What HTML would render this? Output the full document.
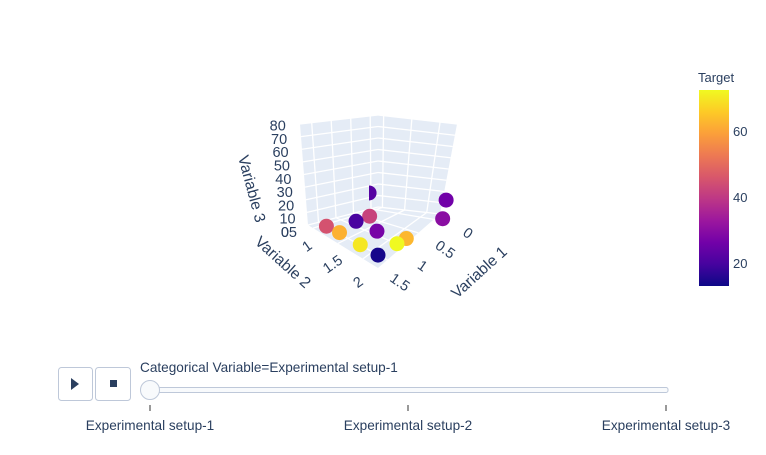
<!DOCTYPE html>
<html><head><meta charset="utf-8"><style>
body{margin:0;background:#fff;font-family:"Liberation Sans",sans-serif;}
svg text{font-family:"Liberation Sans",sans-serif;fill:#2a3f5f;}
</style></head><body>
<svg id="chart" width="766" height="450">
<defs>
<linearGradient id="plasma" x1="0" y1="1" x2="0" y2="0">
<stop offset="0" stop-color="#0d0887"/><stop offset="0.111" stop-color="#46039f"/><stop offset="0.222" stop-color="#7201a8"/><stop offset="0.333" stop-color="#9c179e"/><stop offset="0.444" stop-color="#bd3786"/><stop offset="0.555" stop-color="#d8576b"/><stop offset="0.666" stop-color="#ed7953"/><stop offset="0.777" stop-color="#fb9f3a"/><stop offset="0.888" stop-color="#fdca26"/><stop offset="1" stop-color="#f0f921"/>
</linearGradient>
<clipPath id="sceneclip"><rect x="369" y="0" width="400" height="450"/></clipPath>
</defs>
<g id="scene"></g>
<g id="cbar"></g>
<g id="slider">
<rect x="58.5" y="367.5" width="34" height="33" rx="3" fill="#fff" stroke="#bec8d9"/>
<path d="M71,378 L79,384 L71,390 Z" fill="#2a3f5f"/>
<rect x="95.5" y="367.5" width="35" height="33" rx="3" fill="#fff" stroke="#bec8d9"/>
<rect x="110" y="380" width="7" height="7" fill="#2a3f5f"/>
<text x="140" y="372" font-size="13.6">Categorical Variable=Experimental setup-1</text>
<rect x="150" y="387.5" width="518" height="5" rx="2" fill="#f8fafc" stroke="#bec8d9"/>
</g>
</svg>
<script>
const NS="http://www.w3.org/2000/svg";
// data
const var1=[1.8,1.8,1.1,1.6,1.4,1.8,1.8,1.2,0.9,0.04,0.04,0.05];
const var2=[1.28,1.54,1.67,1.74,2.02,1.95,2.3,2.3,2.3,2.51,2.51,0.9];
const var3=[8,9,15,19,14,9,9,6,4,19,3,14];
const target=[45,62,42,20,27,70,14,73,63,26,30,22];
const zTicks=[0,10,20,30,40,50,60,70,80];
const v1Ticks=[0,0.5,1,1.5];
const v2Ticks=[1,1.5,2];
const cbTicks=[20,40,60];
const frames=["Experimental setup-1","Experimental setup-2","Experimental setup-3"];
const v1R=[-0.2,1.8],v2R=[0.9,2.3],zR=[0,80],cR=[13,72.5];
const B=[378,207],L=[308,225],R=[440,214],F=[378,268];
const Bt=[378,115],Lt=[300,124],Rt=[457,124],Ft=[378,153];
function quad(P0,P1,P2,P3,u,v){return [0,1].map(k=>P0[k]+u*(P1[k]-P0[k])+v*(P2[k]-P0[k])+u*v*(P3[k]-P1[k]-P2[k]+P0[k]));}
function proj(a,b,c){
 const u=(a-v1R[0])/(v1R[1]-v1R[0]),v=(b-v2R[0])/(v2R[1]-v2R[0]);
 const f=quad(B,L,R,F,u,v),t=quad(Bt,Lt,Rt,Ft,u,v);
 const s=(c-zR[0])/(zR[1]-zR[0]);
 return [f[0]+s*(t[0]-f[0]),f[1]+s*(t[1]-f[1])];
}
const stops=["#0d0887","#46039f","#7201a8","#9c179e","#bd3786","#d8576b","#ed7953","#fb9f3a","#fdca26","#f0f921"];
function hx(s){return [1,3,5].map(i=>parseInt(s.substr(i,2),16));}
function color(t){let f=(t-cR[0])/(cR[1]-cR[0]);f=Math.max(0,Math.min(1,f))*9;const i=Math.min(8,Math.floor(f)),r=f-i;const a=hx(stops[i]),b=hx(stops[i+1]);return "rgb("+a.map((x,k)=>Math.round(x+(b[k]-x)*r)).join(",")+")";}
const scene=document.getElementById('scene');
function mk(tag,attrs,parent){const e=document.createElementNS(NS,tag);for(const k in attrs)e.setAttribute(k,attrs[k]);(parent||scene).appendChild(e);return e;}
function poly(pts,attrs){return mk('polygon',Object.assign({points:pts.map(p=>p.join(',')).join(' ')},attrs));}
let w;
w=poly([proj(v1R[0],v2R[0],0),proj(v1R[1],v2R[0],0),proj(v1R[1],v2R[0],80),proj(v1R[0],v2R[0],80)],{fill:"#e5ecf6"});


w=poly([proj(v1R[0],v2R[0],0),proj(v1R[0],v2R[1],0),proj(v1R[0],v2R[1],80),proj(v1R[0],v2R[0],80)],{fill:"#e5ecf6"});


w=poly([proj(v1R[0],v2R[0],0),proj(v1R[1],v2R[0],0),proj(v1R[1],v2R[1],0),proj(v1R[0],v2R[1],0)],{fill:"#e5ecf6"});


function line(p,q,name){const l=mk('line',{x1:p[0],y1:p[1],x2:q[0],y2:q[1],stroke:"#fff","stroke-width":1.3});

}
const zlab=z=>[297-0.14*z,232-1.33*z];
zTicks.forEach(z=>{line(proj(v1R[0],v2R[0],z),proj(v1R[1],v2R[0],z),'z-gridline');line(proj(v1R[0],v2R[0],z),proj(v1R[0],v2R[1],z),'z-gridline');
 const p=zlab(z);const t=mk('text',{x:p[0]-(z===0?8:0),y:p[1]+5,"font-size":14.5,"text-anchor":"end"});t.textContent=z;
 
 });
const v1lab=a=>[468-45.3*a,233+32.7*a];
v1Ticks.forEach(a=>{line(proj(a,v2R[0],0),proj(a,v2R[0],80),'v1-gridline');line(proj(a,v2R[0],0),proj(a,v2R[1],0),'v1-gridline');
 const p=v1lab(a);const t=mk('text',{x:p[0],y:p[1]+5,"font-size":14.5,"text-anchor":"middle",transform:`rotate(35 ${p[0]} ${p[1]})`});t.textContent=a;
 
 });
const v2lab=b=>[307+51*(b-1),246+36*(b-1)];
v2Ticks.forEach(b=>{line(proj(v1R[0],b,0),proj(v1R[0],b,80),'v2-gridline');line(proj(v1R[0],b,0),proj(v1R[1],b,0),'v2-gridline');
 const p=v2lab(b);const t=mk('text',{x:p[0],y:p[1]+5,"font-size":14.5,"text-anchor":"middle",transform:`rotate(-35 ${p[0]} ${p[1]})`});t.textContent=b;
 
 });
let extra=zlab(0);
let ex=mk('text',{x:extra[0],y:extra[1]+5,"font-size":14.5,"text-anchor":"end"});ex.textContent="05";


let at;
at=mk('text',{x:0,y:0,"font-size":15.5,transform:"translate(238,157) rotate(75)"});at.textContent="Variable 3";


at=mk('text',{x:0,y:0,"font-size":15.5,transform:"translate(254,243) rotate(42)"});at.textContent="Variable 2";


at=mk('text',{x:0,y:0,"font-size":15.5,transform:"translate(457,299) rotate(-42)"});at.textContent="Variable 1";


const idx=var1.map((_,i)=>i).sort((i,j)=>proj(var1[i],var2[i],0)[1]-proj(var1[j],var2[j],0)[1]);
idx.forEach(i=>{const p=proj(var1[i],var2[i],var3[i]);
 const c=mk('circle',{cx:p[0],cy:p[1],r:7.5,fill:color(target[i])});
 if(var2[i]<=v2R[0])c.setAttribute('clip-path','url(#sceneclip)');
 
 });
const cb=document.getElementById('cbar');
const cy0=90,cy1=286;
const cbY=v=>cy1-(v-cR[0])/(cR[1]-cR[0])*(cy1-cy0);
mk('rect',{x:699,y:cy0,width:30,height:cy1-cy0,fill:"url(#plasma)"},cb);
let ct=mk('text',{x:698,y:82,"font-size":13},cb);ct.textContent="Target";


cbTicks.forEach(v=>{const t=mk('text',{x:733,y:cbY(v)+5,"font-size":13},cb);t.textContent=v;
 
 });
const sl=document.getElementById('slider');
const sx=i=>150+i*(666-150)/(frames.length-1);
frames.forEach((f,i)=>{mk('line',{x1:sx(i),y1:405,x2:sx(i),y2:411,stroke:"#333","stroke-width":1},sl);
 const t=mk('text',{x:sx(i),y:430,"font-size":13.6,"text-anchor":"middle"},sl);t.textContent=f;
 
 });
const g=mk('circle',{cx:150,cy:390,r:9.5,fill:"#f8fafc",stroke:"#bec8d9"},sl);


</script>
</body></html>
